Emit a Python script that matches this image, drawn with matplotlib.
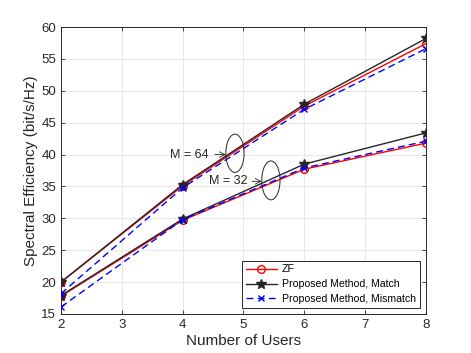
import matplotlib
matplotlib.use('Agg')
import matplotlib.pyplot as plt
from matplotlib.patches import Ellipse

plt.rcParams['font.family'] = ['Liberation Sans', 'DejaVu Sans']

users = [2, 4, 6, 8]

# M = 64
zf_64 = [20.0, 35.1, 47.6, 57.4]
match_64 = [20.0, 35.3, 47.9, 58.2]
mismatch_64 = [18.2, 34.8, 47.1, 56.6]

# M = 32
zf_32 = [17.8, 29.7, 37.7, 41.8]
match_32 = [17.9, 29.9, 38.5, 43.4]
mismatch_32 = [16.1, 29.8, 37.9, 42.1]

fig = plt.figure(figsize=(4.71, 3.53), dpi=100)
ax = fig.add_axes([61 / 471, 1 - 314 / 353, 365 / 471, 287 / 353])

red = '#ff0000'
dark = '#262626'
blue = '#0000ff'

for zf, match, mis in [(zf_64, match_64, mismatch_64), (zf_32, match_32, mismatch_32)]:
    ax.plot(users, zf, color=red, lw=1.0, marker='o', mfc='none', mec=red,
            ms=5.5, mew=1.0, label='ZF', zorder=3)
    ax.plot(users, match, color=dark, lw=1.0, marker='*', mfc=dark, mec=dark,
            ms=7, label='Proposed Method, Match', zorder=4)
    ax.plot(users, mis, color=blue, lw=1.0, ls=(0, (5, 3)), marker='x',
            mec=blue, ms=4.5, mew=1.0, label='Proposed Method, Mismatch', zorder=5)

# ellipse annotations
ax.add_patch(Ellipse((4.86, 40.2), 0.30, 6.0, fill=False, lw=0.7, ec=dark, zorder=6))
ax.add_patch(Ellipse((5.45, 35.95), 0.30, 6.1, fill=False, lw=0.7, ec=dark, zorder=6))

ax.text(4.43, 40.0, 'M = 64', fontsize=9, ha='right', va='center', color=dark)
ax.annotate('', xy=(4.71, 40.0), xytext=(4.53, 40.0),
            arrowprops=dict(arrowstyle='->', lw=0.6, color=dark, shrinkA=0, shrinkB=0))
ax.text(5.06, 35.8, 'M = 32', fontsize=9, ha='right', va='center', color=dark)
ax.annotate('', xy=(5.30, 35.8), xytext=(5.14, 35.8),
            arrowprops=dict(arrowstyle='->', lw=0.6, color=dark, shrinkA=0, shrinkB=0))

ax.set_xlim(2, 8)
ax.set_ylim(15, 60)
ax.set_xticks(range(2, 9))
ax.set_yticks(range(15, 61, 5))
ax.grid(True, color='#e3e3e3', lw=0.6)
ax.set_axisbelow(True)
ax.tick_params(direction='in', top=True, right=True, length=3, width=0.6,
               labelsize=9.5, colors='#262626')
for s in ax.spines.values():
    s.set_color('#262626')
    s.set_linewidth(0.7)

ax.set_xlabel('Number of Users', fontsize=11, color='#262626', labelpad=2)
ax.set_ylabel('Spectral Efficiency (bit/s/Hz)', fontsize=11, color='#262626', labelpad=2)

handles, labels = ax.get_legend_handles_labels()
leg = ax.legend(handles[:3], labels[:3], loc='lower right', fontsize=7.6,
                fancybox=False, framealpha=1, edgecolor='#262626',
                borderpad=0.35, labelspacing=0.45, handlelength=2.9,
                handletextpad=0.5, borderaxespad=0.6)
leg.get_frame().set_linewidth(0.7)

fig.savefig('out.png', dpi=100)
